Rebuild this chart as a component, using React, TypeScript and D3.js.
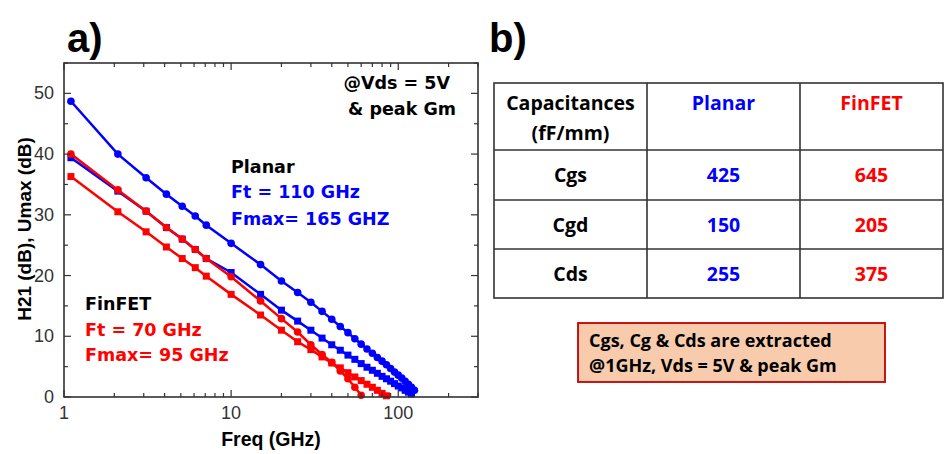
import React from "react";
import * as d3 from "d3";

// frequency points (GHz) shared by all four curves
const freqGHz = [1.1, 2.1, 3.1, 4.1, 5.1, 6.1, 7.1, 10, 15, 20, 25, 30, 35, 40, 45, 50, 55, 60, 65, 70, 75, 80, 85, 90, 95, 100, 105, 110, 115, 120, 125];

// dB values (each list covers the first N frequencies)
const planarCircles = [48.7, 40.0, 36.1, 33.4, 31.4, 29.8, 28.3, 25.3, 21.8, 19.1, 17.2, 15.6, 14.1, 12.8, 11.6, 10.6, 9.6, 8.7, 7.9, 7.2, 6.5, 5.9, 5.3, 4.7, 4.1, 3.6, 3.1, 2.6, 2.1, 1.6, 1.1];
const planarSquares = [39.4, 33.9, 30.6, 27.9, 26.0, 24.3, 22.8, 20.5, 16.9, 14.3, 12.5, 11.0, 9.7, 8.6, 7.7, 6.9, 6.2, 5.5, 4.9, 4.4, 3.9, 3.4, 3.0, 2.6, 2.2, 1.8, 1.5, 1.1, 0.8, 0.5];
const finfetCircles = [40.0, 34.1, 30.6, 27.9, 26.0, 24.3, 22.8, 19.8, 15.8, 12.9, 10.7, 8.6, 7.0, 5.7, 4.3, 3.0, 1.6, 0.3];
const finfetSquares = [36.3, 30.5, 27.2, 24.7, 22.8, 21.3, 19.9, 16.9, 13.5, 11.0, 9.1, 7.8, 6.6, 5.6, 4.8, 4.0, 3.3, 2.7, 2.1, 1.6, 1.1, 0.6, 0.2];

const xMajor = [1, 10, 100];
const xMinor = [2, 3, 4, 5, 6, 7, 8, 9, 20, 30, 40, 50, 60, 70, 80, 90, 200, 300];
const yMajor = [0, 10, 20, 30, 40, 50];
const yMinor = [5, 15, 25, 35, 45, 55];

// table b)
const tableHeader = ["Planar", "FinFET"];
const tableRows = ["Cgs", "Cgd", "Cds"];
const planarCaps = [425, 150, 255];
const finfetCaps = [645, 205, 375];

const BLUE = "#0000ff";
const RED = "#ff0000";
const AXIS = "#333";
const ARIAL = "'Liberation Sans', Arial, sans-serif";
const WIDE = "'DejaVu Sans', sans-serif";
const CALIBRI = "'Open Sans', Lato, sans-serif";

const plot = { left: 64, right: 478, top: 63, bottom: 397 };

export default function App() {
  const x = d3.scaleLog().domain([1, 300]).range([plot.left, plot.right]);
  const y = d3.scaleLinear().domain([0, 55]).range([plot.bottom, plot.top]);

  const toPts = (vals: number[]) => vals.map((v, i) => ({ f: freqGHz[i], v }));
  const line = d3.line<{ f: number; v: number }>().x(d => x(d.f)).y(d => y(d.v));

  const series = [
    { pts: toPts(planarCircles), color: BLUE, shape: "circle" },
    { pts: toPts(planarSquares), color: BLUE, shape: "square" },
    { pts: toPts(finfetSquares), color: RED, shape: "square" },
    { pts: toPts(finfetCircles), color: RED, shape: "circle" },
  ];

  const colX = [494, 647, 800, 943];
  const rowY = [83, 150, 200, 249, 298];

  return (
    <svg width={945} height={454} style={{ position: "absolute", left: 0, top: 0, background: "#fff" }}>
      {/* panel a */}
      <text x={67} y={52} fontFamily={ARIAL} fontWeight="bold" fontSize={40} fill="#000">a)</text>

      <g>
        {series.map((s, i) => (
          <g key={i}>
            <path d={line(s.pts) || ""} fill="none" stroke={s.color} strokeWidth={2.5} />
            {s.pts.map((p, j) =>
              s.shape === "circle" ? (
                <circle key={j} cx={x(p.f)} cy={y(p.v)} r={3.8} fill={s.color} />
              ) : (
                <rect key={j} x={x(p.f) - 3.5} y={y(p.v) - 3.5} width={7} height={7} fill={s.color} />
              )
            )}
          </g>
        ))}
      </g>

      {/* frame + ticks on all four sides */}
      <rect x={plot.left} y={plot.top} width={plot.right - plot.left} height={plot.bottom - plot.top}
        fill="none" stroke={AXIS} strokeWidth={1.6} />
      {xMajor.concat(xMinor).map((t, i) => {
        const len = xMajor.includes(t) ? 7 : 4;
        return (
          <g key={"xt" + i} stroke={AXIS} strokeWidth={1.2}>
            <line x1={x(t)} x2={x(t)} y1={plot.bottom} y2={plot.bottom - len} />
            <line x1={x(t)} x2={x(t)} y1={plot.top} y2={plot.top + len} />
          </g>
        );
      })}
      {yMajor.concat(yMinor).map((t, i) => {
        const len = yMajor.includes(t) ? 7 : 4;
        return (
          <g key={"yt" + i} stroke={AXIS} strokeWidth={1.2}>
            <line x1={plot.left} x2={plot.left + len} y1={y(t)} y2={y(t)} />
            <line x1={plot.right} x2={plot.right - len} y1={y(t)} y2={y(t)} />
          </g>
        );
      })}
      {xMajor.map(t => (
        <text key={"xl" + t} x={x(t)} y={419} textAnchor="middle" fontFamily={ARIAL} fontSize={18} fill={AXIS}>{t}</text>
      ))}
      {yMajor.map(t => (
        <text key={"yl" + t} x={54} y={y(t) + 6} textAnchor="end" fontFamily={ARIAL} fontSize={18} fill={AXIS}>{t}</text>
      ))}
      <text x={271} y={446} textAnchor="middle" fontFamily={ARIAL} fontWeight="bold" fontSize={19.5} fill="#000">Freq (GHz)</text>
      <text transform="translate(31,229) rotate(-90)" textAnchor="middle" fontFamily={ARIAL} fontWeight="bold" fontSize={19} fill="#000">H21 (dB), Umax (dB)</text>

      {/* annotations */}
      <g fontFamily={WIDE} fontWeight="bold" fontSize={17.5}>
        <text x={450} y={89} textAnchor="end" fill="#000">@Vds = 5V</text>
        <text x={456} y={115} textAnchor="end" fill="#000">&amp; peak Gm</text>
        <text x={231} y={173} fill="#000">Planar</text>
        <text x={231} y={198} fill={BLUE}>Ft = 110 GHz</text>
        <text x={231} y={225} fill={BLUE}>Fmax= 165 GHZ</text>
        <text x={85} y={310} fill="#000">FinFET</text>
        <text x={85} y={336} fill={RED}>Ft = 70 GHz</text>
        <text x={85} y={361} fill={RED}>Fmax= 95 GHz</text>
      </g>

      {/* panel b */}
      <text x={489} y={52} fontFamily={ARIAL} fontWeight="bold" fontSize={40} fill="#000">b)</text>
      <g stroke={AXIS} strokeWidth={1.6}>
        <rect x={colX[0]} y={rowY[0]} width={colX[3] - colX[0]} height={rowY[4] - rowY[0]} fill="none" />
        {colX.slice(1, 3).map(cx => <line key={cx} x1={cx} x2={cx} y1={rowY[0]} y2={rowY[4]} />)}
        {rowY.slice(1, 4).map(ry => <line key={ry} x1={colX[0]} x2={colX[3]} y1={ry} y2={ry} />)}
      </g>
      <g fontFamily={CALIBRI} fontWeight="bold" fontSize={19.5} textAnchor="middle">
        <text x={(colX[0] + colX[1]) / 2} y={110} fill="#000">Capacitances</text>
        <text x={(colX[0] + colX[1]) / 2} y={140} fill="#000">(fF/mm)</text>
        <text x={(colX[1] + colX[2]) / 2} y={110} fill={BLUE}>{tableHeader[0]}</text>
        <text x={(colX[2] + colX[3]) / 2} y={110} fill={RED}>{tableHeader[1]}</text>
        {tableRows.map((r, i) => {
          const by = (rowY[i + 1] + rowY[i + 2]) / 2 + 7;
          return (
            <g key={r}>
              <text x={(colX[0] + colX[1]) / 2} y={by} fill="#000">{r}</text>
              <text x={(colX[1] + colX[2]) / 2} y={by} fill={BLUE}>{planarCaps[i]}</text>
              <text x={(colX[2] + colX[3]) / 2} y={by} fill={RED}>{finfetCaps[i]}</text>
            </g>
          );
        })}
      </g>

      {/* note box */}
      <rect x={578} y={323} width={307} height={59} fill="#f8cbad" stroke="#c00000" strokeWidth={1.8} />
      <g fontFamily={CALIBRI} fontWeight="bold" fontSize={18} fill="#000">
        <text x={589} y={347}>Cgs, Cg &amp; Cds are extracted</text>
        <text x={589} y={372}>@1GHz, Vds = 5V &amp; peak Gm</text>
      </g>
    </svg>
  );
}
